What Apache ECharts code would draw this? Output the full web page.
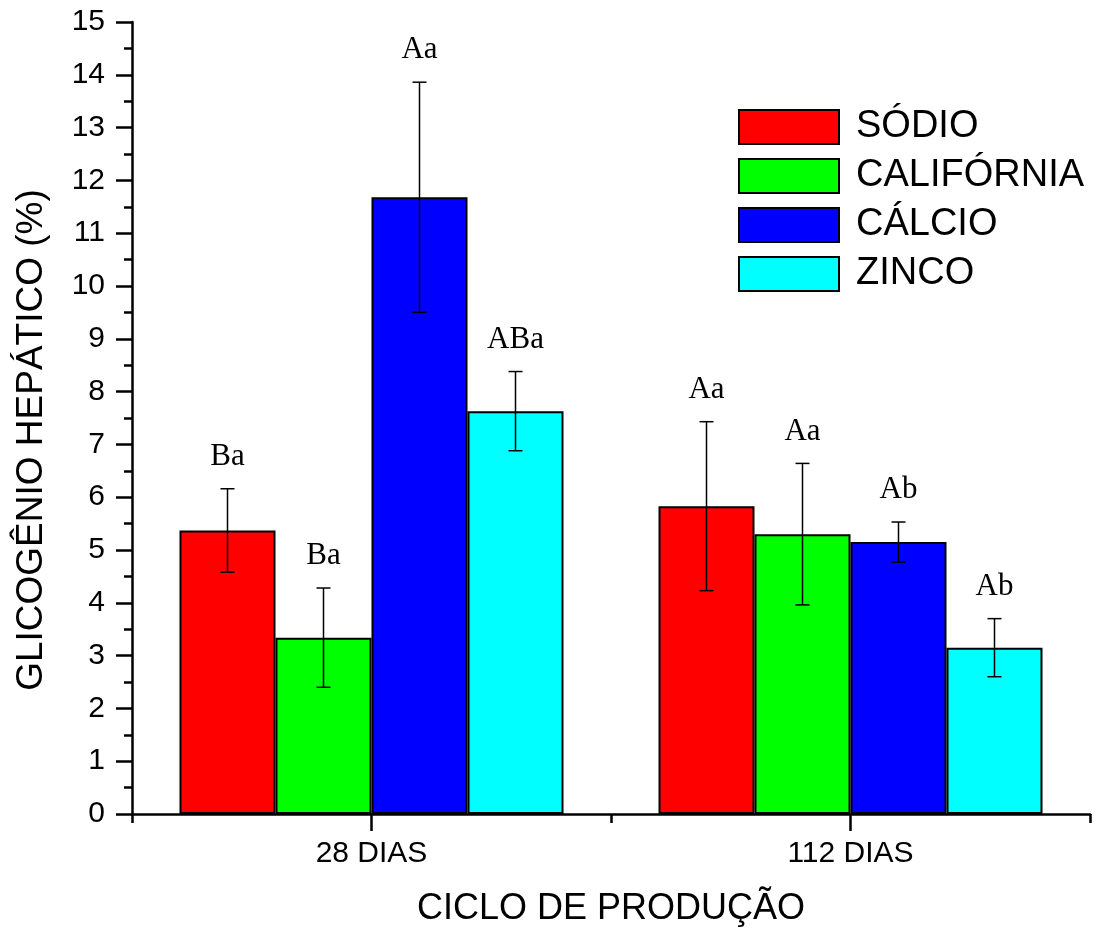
<!DOCTYPE html>
<html>
<head>
<meta charset="utf-8">
<script src="https://cdn.jsdelivr.net/npm/echarts@6/dist/echarts.min.js"></script>
<style>
  html, body { margin: 0; padding: 0; background: #fff; }
  #main { width: 1104px; height: 932px; }
</style>
</head>
<body>
<div id="main"></div>
<script>
// categorias e séries
const categories = ['28 DIAS', '112 DIAS'];
const seriesNames = ['SÓDIO', 'CALIFÓRNIA', 'CÁLCIO', 'ZINCO'];
const seriesColors = ['#ff0000', '#00ff00', '#0000ff', '#00ffff'];

// médias (%)
const sodio = [5.37, 5.83];
const california = [3.34, 5.30];
const calcio = [11.68, 5.15];
const zinco = [7.63, 3.15];

// erro padrão
const sodioErr = [0.79, 1.60];
const californiaErr = [0.94, 1.34];
const calcioErr = [2.18, 0.38];
const zincoErr = [0.75, 0.55];

// letras de significância
const sodioLetters = ['Ba', 'Aa'];
const californiaLetters = ['Ba', 'Aa'];
const calcioLetters = ['Aa', 'Ab'];
const zincoLetters = ['ABa', 'Ab'];

const yTicks = [0, 15, 1];

const means = [sodio, california, calcio, zinco];
const errs = [sodioErr, californiaErr, calcioErr, zincoErr];
const letters = [sodioLetters, californiaLetters, calcioLetters, zincoLetters];

const BAR_W = 96;
const FONT = '"Liberation Sans", Arial, Helvetica, sans-serif';

// dados das barras de erro: [categoria, série, média, erro, letra]
const errData = [];
means.forEach((m, s) => {
    m.forEach((v, c) => {
        errData.push([c, s, v, errs[s][c], letters[s][c]]);
    });
});

function renderErr(params, api) {
    const c = api.value(0);
    const s = api.value(1);
    const v = api.value(2);
    const e = api.value(3);
    const label = errData[params.dataIndex][4];
    const x = api.coord([c, 0])[0] + (s - 1.5) * BAR_W;
    const yHi = api.coord([c, v + e])[1];
    const yLo = api.coord([c, v - e])[1];
    const cap = 7;
    const st = { stroke: '#000', lineWidth: 1.5 };
    return {
        type: 'group',
        children: [
            { type: 'line', shape: { x1: x, y1: yHi, x2: x, y2: yLo }, style: st },
            { type: 'line', shape: { x1: x - cap, y1: yHi, x2: x + cap, y2: yHi }, style: st },
            { type: 'line', shape: { x1: x - cap, y1: yLo, x2: x + cap, y2: yLo }, style: st },
            {
                type: 'text',
                style: {
                    text: label, x: x, y: yHi - 32,
                    align: 'center', verticalAlign: 'middle',
                    font: '31px "Liberation Serif", "Times New Roman", serif',
                    fill: '#000'
                }
            }
        ]
    };
}

let myChart = echarts.init(document.getElementById('main'));
let option = {
    animation: false,
    backgroundColor: '#fff',
    grid: { left: 132, right: 14, top: 22, bottom: 117 },
    legend: {
        orient: 'vertical',
        left: 738,
        top: 108,
        padding: 0,
        itemWidth: 100,
        itemHeight: 34,
        itemGap: 11,
        icon: 'rect',
        data: seriesNames,
        textStyle: { fontSize: 38, fontFamily: FONT, color: '#000', padding: [0, 0, 0, 12] }
    },
    xAxis: [
        {
            type: 'category',
            data: categories,
            name: 'CICLO DE PRODUÇÃO',
            nameLocation: 'middle',
            nameGap: 77,
            nameTextStyle: { fontSize: 36, fontFamily: FONT, color: '#000' },
            axisLine: { lineStyle: { color: '#000', width: 2.5 } },
            axisTick: { show: true, interval: 0, alignWithLabel: true, length: 17, lineStyle: { color: '#000', width: 2.5 } },
            axisLabel: { fontSize: 30, fontFamily: FONT, color: '#000', margin: 25 }
        },
        {
            // só para o traço intermediário entre as categorias
            type: 'value',
            position: 'bottom',
            min: 0, max: 2, interval: 1,
            axisLine: { show: false },
            axisTick: { show: true, length: 9, lineStyle: { color: '#000', width: 2.5 } },
            axisLabel: { show: false },
            splitLine: { show: false }
        }
    ],
    yAxis: {
        type: 'value',
        min: yTicks[0],
        max: yTicks[1],
        interval: yTicks[2],
        name: 'GLICOGÊNIO HEPÁTICO (%)',
        nameLocation: 'middle',
        nameGap: 82,
        nameTextStyle: { fontSize: 37, fontFamily: FONT, color: '#000', padding: [0, 44, 0, 0] },
        axisLine: { show: true, lineStyle: { color: '#000', width: 2.5 } },
        axisTick: { show: true, length: 16, lineStyle: { color: '#000', width: 2.5 } },
        minorTick: { show: true, splitNumber: 2, length: 8, lineStyle: { color: '#000', width: 2.5 } },
        axisLabel: { fontSize: 30, fontFamily: FONT, color: '#000', margin: 27 },
        splitLine: { show: false }
    },
    series: seriesNames.map((name, i) => ({
        name: name,
        type: 'bar',
        data: means[i],
        barWidth: BAR_W,
        barGap: '0%',
        itemStyle: { color: seriesColors[i], borderColor: '#000', borderWidth: 2 }
    })).concat([{
        type: 'custom',
        renderItem: renderErr,
        data: errData.map(d => [d[0], d[1], d[2], d[3]]),
        encode: { x: 0, y: 2 },
        z: 10,
        silent: true
    }])
};
myChart.setOption(option);
</script>
</body>
</html>
